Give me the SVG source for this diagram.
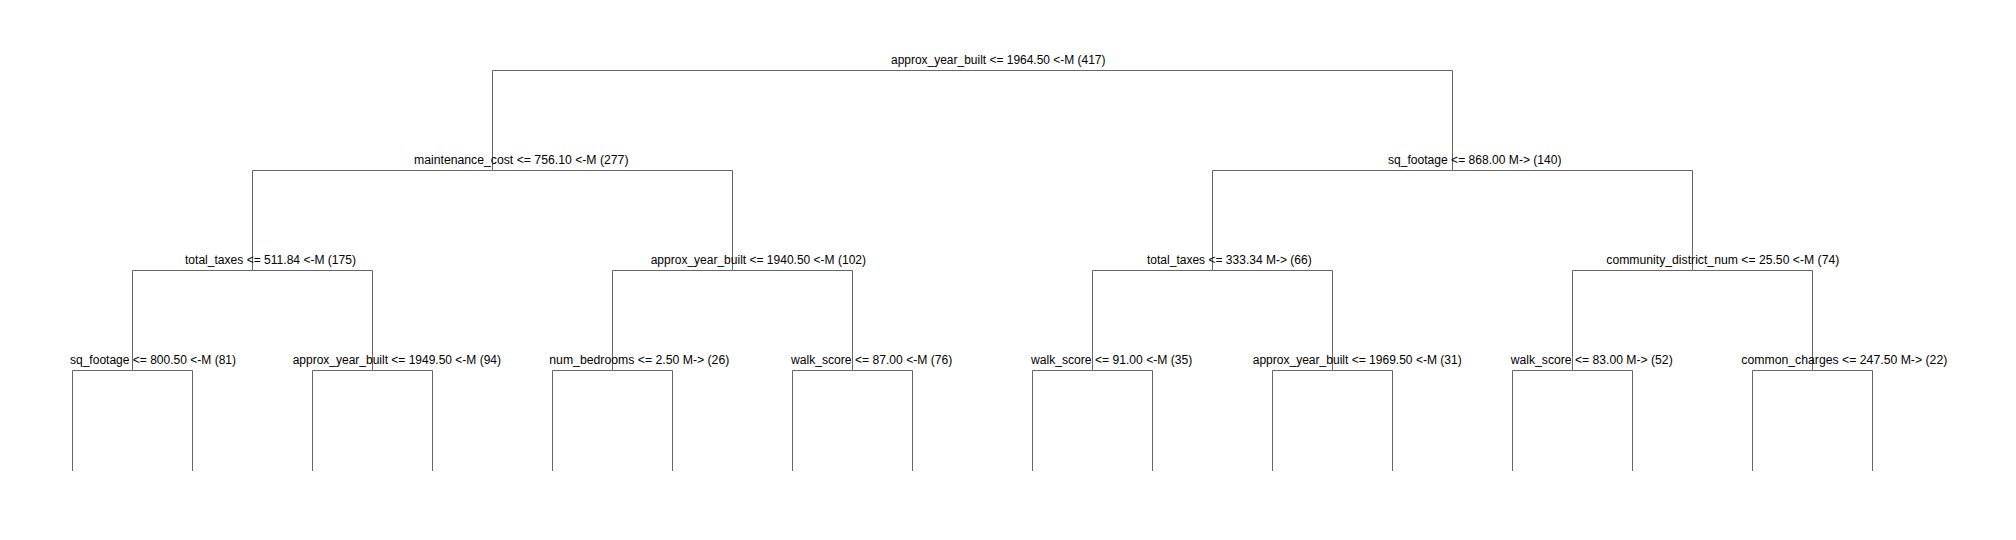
<svg xmlns="http://www.w3.org/2000/svg" width="2016" height="540" viewBox="0 0 2016 540">
<style>
  .bg { fill: #ffffff; }
  .lbl { font-family: "Liberation Sans", Arial, sans-serif; font-size: 12px; fill: #000000; }
  .edge { fill: none; stroke: #666666; stroke-width: 1; }
</style>
<rect class="bg" x="0" y="0" width="2016" height="540"/>
<g id="connectors">
  <path class="edge" d="M972.5 70.5 H492.5 V170.5"/>
  <path class="edge" d="M972.5 70.5 H1452.5 V170.5"/>
  <path class="edge" d="M492.5 170.5 H252.5 V270.5"/>
  <path class="edge" d="M492.5 170.5 H732.5 V270.5"/>
  <path class="edge" d="M1452.5 170.5 H1212.5 V270.5"/>
  <path class="edge" d="M1452.5 170.5 H1692.5 V270.5"/>
  <path class="edge" d="M252.5 270.5 H132.5 V370.5"/>
  <path class="edge" d="M252.5 270.5 H372.5 V370.5"/>
  <path class="edge" d="M732.5 270.5 H612.5 V370.5"/>
  <path class="edge" d="M732.5 270.5 H852.5 V370.5"/>
  <path class="edge" d="M1212.5 270.5 H1092.5 V370.5"/>
  <path class="edge" d="M1212.5 270.5 H1332.5 V370.5"/>
  <path class="edge" d="M1692.5 270.5 H1572.5 V370.5"/>
  <path class="edge" d="M1692.5 270.5 H1812.5 V370.5"/>
  <path class="edge" d="M132.5 370.5 H72.5 V471"/>
  <path class="edge" d="M132.5 370.5 H192.5 V471"/>
  <path class="edge" d="M372.5 370.5 H312.5 V471"/>
  <path class="edge" d="M372.5 370.5 H432.5 V471"/>
  <path class="edge" d="M612.5 370.5 H552.5 V471"/>
  <path class="edge" d="M612.5 370.5 H672.5 V471"/>
  <path class="edge" d="M852.5 370.5 H792.5 V471"/>
  <path class="edge" d="M852.5 370.5 H912.5 V471"/>
  <path class="edge" d="M1092.5 370.5 H1032.5 V471"/>
  <path class="edge" d="M1092.5 370.5 H1152.5 V471"/>
  <path class="edge" d="M1332.5 370.5 H1272.5 V471"/>
  <path class="edge" d="M1332.5 370.5 H1392.5 V471"/>
  <path class="edge" d="M1572.5 370.5 H1512.5 V471"/>
  <path class="edge" d="M1572.5 370.5 H1632.5 V471"/>
  <path class="edge" d="M1812.5 370.5 H1752.5 V471"/>
  <path class="edge" d="M1812.5 370.5 H1872.5 V471"/>
</g>
<g id="node-root"><text class="lbl" x="891" y="64" textLength="214.5" lengthAdjust="spacingAndGlyphs">approx_year_built &lt;= 1964.50 &lt;-M (417)</text></g>
<g id="node-l1a"><text class="lbl" x="414" y="164" textLength="214.5" lengthAdjust="spacingAndGlyphs">maintenance_cost &lt;= 756.10 &lt;-M (277)</text></g>
<g id="node-l1b"><text class="lbl" x="1388" y="164" textLength="173.5" lengthAdjust="spacingAndGlyphs">sq_footage &lt;= 868.00 M-&gt; (140)</text></g>
<g id="node-l2a"><text class="lbl" x="185" y="264" textLength="171" lengthAdjust="spacingAndGlyphs">total_taxes &lt;= 511.84 &lt;-M (175)</text></g>
<g id="node-l2b"><text class="lbl" x="650.7" y="264" textLength="215.3" lengthAdjust="spacingAndGlyphs">approx_year_built &lt;= 1940.50 &lt;-M (102)</text></g>
<g id="node-l2c"><text class="lbl" x="1147" y="264" textLength="164.7" lengthAdjust="spacingAndGlyphs">total_taxes &lt;= 333.34 M-&gt; (66)</text></g>
<g id="node-l2d"><text class="lbl" x="1606.3" y="264" textLength="233" lengthAdjust="spacingAndGlyphs">community_district_num &lt;= 25.50 &lt;-M (74)</text></g>
<g id="node-l3a"><text class="lbl" x="70" y="364" textLength="166" lengthAdjust="spacingAndGlyphs">sq_footage &lt;= 800.50 &lt;-M (81)</text></g>
<g id="node-l3b"><text class="lbl" x="292.7" y="364" textLength="208.3" lengthAdjust="spacingAndGlyphs">approx_year_built &lt;= 1949.50 &lt;-M (94)</text></g>
<g id="node-l3c"><text class="lbl" x="549.3" y="364" textLength="180" lengthAdjust="spacingAndGlyphs">num_bedrooms &lt;= 2.50 M-&gt; (26)</text></g>
<g id="node-l3d"><text class="lbl" x="791" y="364" textLength="161.3" lengthAdjust="spacingAndGlyphs">walk_score &lt;= 87.00 &lt;-M (76)</text></g>
<g id="node-l3e"><text class="lbl" x="1031" y="364" textLength="161.3" lengthAdjust="spacingAndGlyphs">walk_score &lt;= 91.00 &lt;-M (35)</text></g>
<g id="node-l3f"><text class="lbl" x="1252.7" y="364" textLength="209" lengthAdjust="spacingAndGlyphs">approx_year_built &lt;= 1969.50 &lt;-M (31)</text></g>
<g id="node-l3g"><text class="lbl" x="1510.7" y="364" textLength="162" lengthAdjust="spacingAndGlyphs">walk_score &lt;= 83.00 M-&gt; (52)</text></g>
<g id="node-l3h"><text class="lbl" x="1741.3" y="364" textLength="206" lengthAdjust="spacingAndGlyphs">common_charges &lt;= 247.50 M-&gt; (22)</text></g>
</svg>
